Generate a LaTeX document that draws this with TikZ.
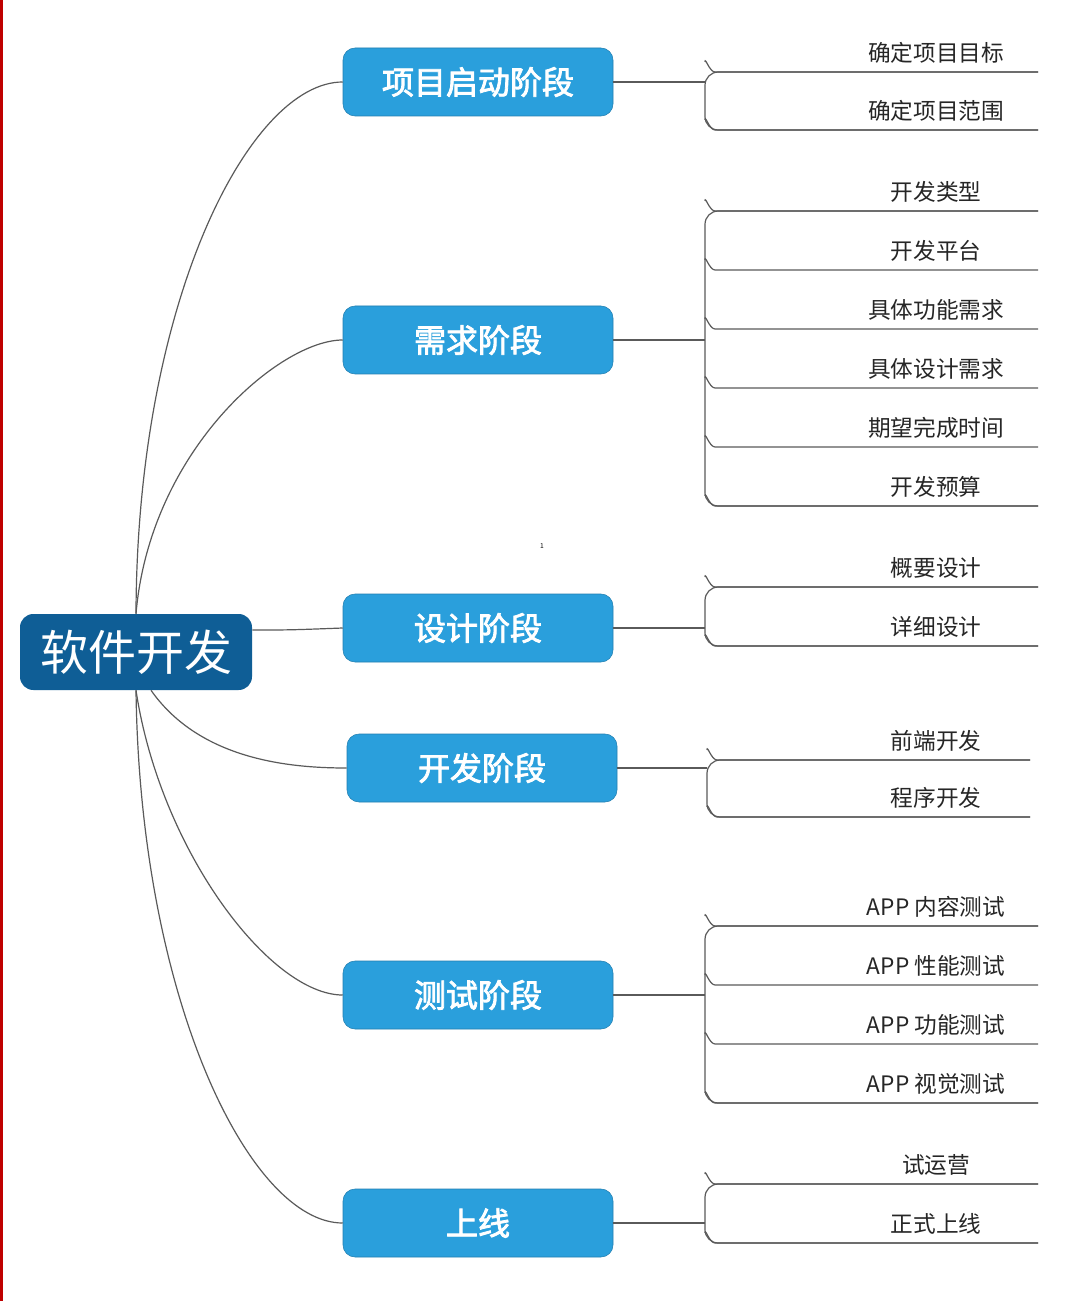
\documentclass[tikz,border=0pt]{standalone}
\usepackage{fontspec}
\setmainfont{Noto Sans CJK SC}
\newfontfamily\cjkb[FakeBold=2.5]{Noto Sans CJK SC}
\definecolor{rootc}{HTML}{0F5E96}
\definecolor{phc}{HTML}{2A9FDC}
\definecolor{lnc}{HTML}{5A5A5A}
\tikzset{
 phase/.style={fill=phc,draw=phc!80!black,rounded corners=9pt,minimum width=202.5pt,minimum height=51pt,text=white,font=\cjkb\fontsize{24}{24}\selectfont},
 leaf/.style={font=\fontsize{17}{17}\selectfont,text=black!85},
 ln/.style={draw=lnc,line width=0.9pt},
}
\begin{document}
\begin{tikzpicture}[x=0.75pt,y=-0.75pt]
\useasboundingbox (0,0) rectangle (1080,1301);
\fill[white] (0,0) rectangle (1080,1301);
\fill[red!75!black] (0,0) rectangle (3,1301);
\node[fill=rootc,rounded corners=10pt,minimum width=174pt,minimum height=57pt,text=white,font=\fontsize{36}{36}\selectfont] (root) at (136,652) {软件开发};
\node[phase] (p1) at (478,82) {项目启动阶段};
\node[phase] (p2) at (478,340) {需求阶段};
\node[phase] (p3) at (478,628) {设计阶段};
\node[phase] (p4) at (482,768) {开发阶段};
\node[phase] (p5) at (478,995) {测试阶段};
\node[phase] (p6) at (478,1223) {上线};
\node[font=\tiny] (one) at (542,546) {1};
% root connectors
\draw[ln] (root.north) .. controls (137,300) and (250,82) .. (p1.west);
\draw[ln] (root.north) .. controls (150,450) and (280,340) .. (p2.west);
\draw[ln] (root.east) ++(0,-22) coordinate (r3) ;
\draw[ln] (r3) .. controls (290,630) .. (p3.west);
\draw[ln] (root.south) ++(15,0) coordinate (r4);
\draw[ln] (r4) .. controls (200,760) and (290,768) .. (p4.west);
\draw[ln] (root.south) .. controls (160,850) and (270,995) .. (p5.west);
\draw[ln] (root.south) .. controls (140,1000) and (250,1223) .. (p6.west);
% groups
\foreach \p/\cy/\bx/\ex/\lines/\texts in {
 p1/82/705/1038/{72,130}/{确定项目目标,确定项目范围},
 p2/340/705/1038/{211,270,329,388,447,506}/{开发类型,开发平台,具体功能需求,具体设计需求,期望完成时间,开发预算},
 p3/628/705/1038/{587,646}/{概要设计,详细设计},
 p4/768/707/1030/{760,817}/{前端开发,程序开发},
 p5/995/705/1038/{926,985,1044,1103}/{APP 内容测试,APP 性能测试,APP 功能测试,APP 视觉测试},
 p6/1223/705/1038/{1184,1243}/{试运营,正式上线}}{
  \coordinate (\p j) at (\bx,\cy);
  \draw[ln] (\p.east) -- (\p j);
  \foreach \y [count=\i] in \lines {
    \ifnum\i=1 \xdef\yfirst{\y}\fi
    \xdef\ylast{\y}
  }
  \draw[ln,rounded corners=10pt] (\ex,\yfirst) -- (\bx,\yfirst) -- (\bx,\ylast) -- (\ex,\ylast);
  \foreach \y [count=\i] in \lines {
    \coordinate (\p e\i) at (\ex,\y);
    \draw[ln] (\bx,\y-10) to[out=90,in=180] (\bx+10,\y) -- (\p e\i);
  }
  \foreach \t [count=\i] in \texts {
    \node[leaf,anchor=south] (\p t\i) at ([yshift=3pt]\p e\i -| 936,0) {\t};
  }
}
\end{tikzpicture}
\end{document}
